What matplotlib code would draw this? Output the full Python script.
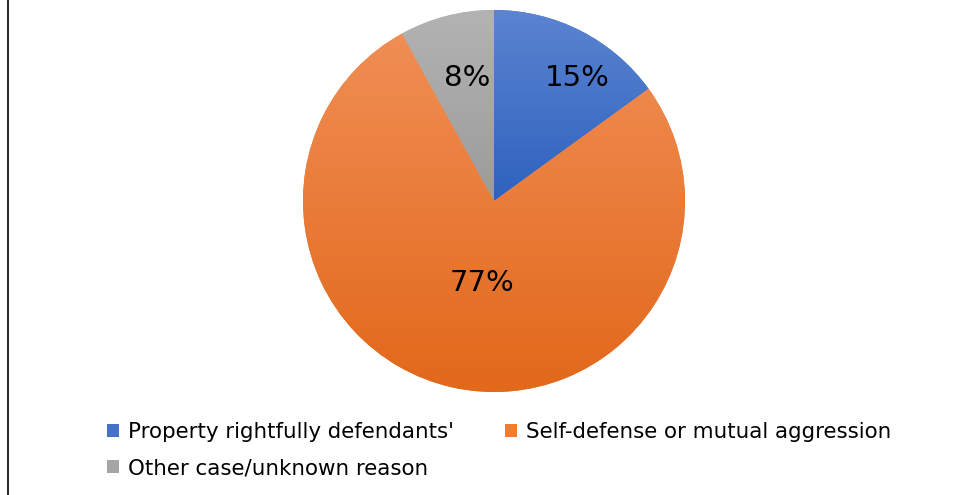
import numpy as np
import matplotlib.pyplot as plt
from matplotlib.colors import LinearSegmentedColormap
from matplotlib.lines import Line2D

# Data
categories = ["Property rightfully defendants'",
              "Self-defense or mutual aggression",
              "Other case/unknown reason"]
shares = [15, 77, 8]

# slice colours: flat (legend) and top / bottom of the gradient fill
flat_colors = ['#4472c4', '#ed7d31', '#a5a5a5']
top_colors = ['#5b84d1', '#f08e55', '#b3b3b3']
bottom_colors = ['#2e62be', '#e2681a', '#9b9b9b']
# label spots, as fractions of the radius
label_xy = [(0.435, 0.644), (-0.063, -0.429), (-0.141, 0.644)]

plt.rcParams['font.family'] = 'DejaVu Sans'

fig = plt.figure(figsize=(9.67, 4.95), dpi=100)
ax = fig.add_axes([303 / 967, (294 - 191) / 495, 382 / 967, 382 / 495])

wedges, texts, autotexts = ax.pie(shares, startangle=90, counterclock=False,
                                  colors=flat_colors, radius=1,
                                  autopct='%1.0f%%',
                                  textprops={'fontsize': 21, 'color': 'black'})

# vertical gradient fill inside each slice
for w, c_top, c_bot in zip(wedges, top_colors, bottom_colors):
    bb = w.get_path().get_extents()
    cmap = LinearSegmentedColormap.from_list('g', [c_bot, c_top])
    grad = np.linspace(0, 1, 256).reshape(-1, 1)
    im = ax.imshow(grad, cmap=cmap, origin='lower', aspect='auto',
                   extent=(bb.x0, bb.x1, bb.y0, bb.y1), zorder=1.5)
    im.set_clip_path(w)
    w.set_edgecolor('none')

ax.set_xlim(-1, 1)
ax.set_ylim(-1, 1)

for t, xy in zip(autotexts, label_xy):
    t.set_position(xy)
    t.set_zorder(3)

# legend: Property / Other in first column, Self-defense in second
order = [0, 2, 1]
leg = fig.legend([wedges[i] for i in order], [categories[i] for i in order],
                 ncol=2, loc='upper left', bbox_to_anchor=(107 / 967, 1 - 422 / 495),
                 frameon=False, fontsize=15.4, handlelength=0.55, handleheight=0.55,
                 handletextpad=0.42, columnspacing=2.4, labelspacing=0.75,
                 borderpad=0, borderaxespad=0)
for h, i in zip(leg.legend_handles, order):
    h.set_facecolor(flat_colors[i])
    h.set_edgecolor('none')

fig.add_artist(Line2D([7.5 / 967, 7.5 / 967], [0, 1], color='black', lw=1.2,
                      transform=fig.transFigure))

fig.savefig('out.png', dpi=100)
